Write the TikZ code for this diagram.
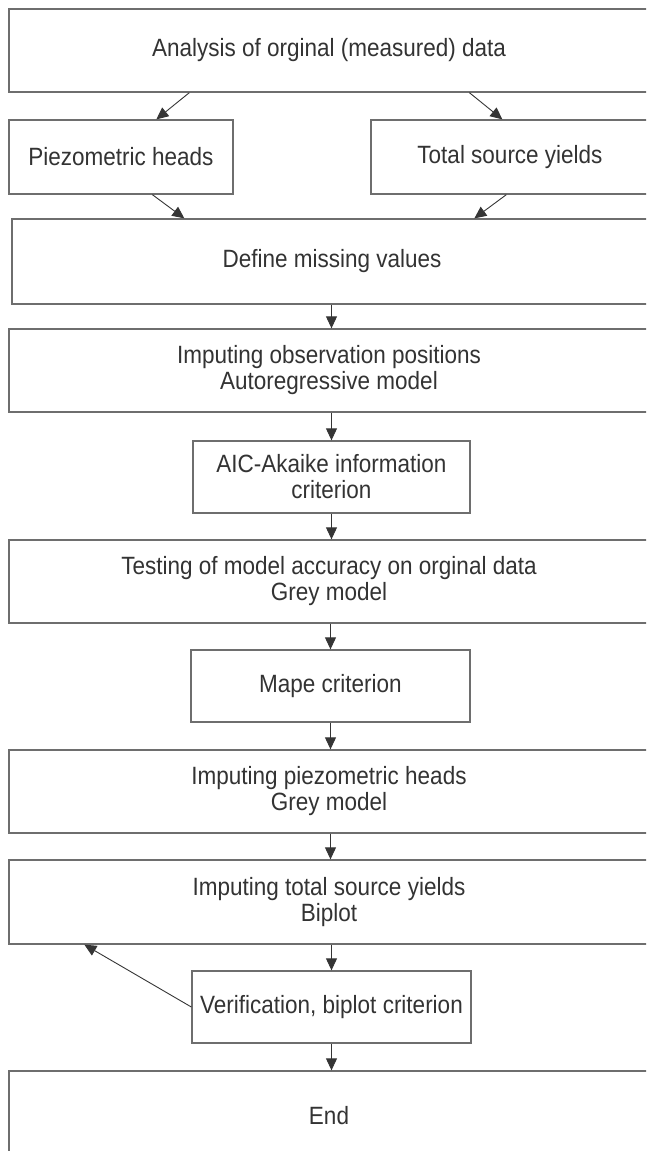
\documentclass[tikz,border=0pt]{standalone}
\usepackage{fontspec}
\setmainfont{Liberation Sans}[FakeStretch=0.9]
\usetikzlibrary{arrows.meta,positioning}
\definecolor{boxline}{HTML}{6E6E6E}
\definecolor{ink}{HTML}{333333}
\definecolor{arrowink}{HTML}{353535}
\tikzset{
  box/.style={draw=boxline, line width=1.3pt, fill=white, align=center,
    text=ink, font=\fontsize{25}{26}\selectfont, inner sep=0pt},
  widebox/.style={box, minimum width=640pt},
  narrowbox/.style={box, minimum width=278pt, minimum height=72pt},
  flow/.style={draw=arrowink, line width=0.9pt,
    -{Triangle[length=12pt,width=11pt]}},
}
\begin{document}
\begin{tikzpicture}[x=1pt,y=-1pt]
  \useasboundingbox (0,0) rectangle (646,1151);
  \clip (0,0) rectangle (646,1151);

  % stages of the procedure
  \node[widebox, minimum height=83pt] (top) at (329,50.5)
    {Analysis of orginal (measured) data};
  \node[box, minimum width=224pt, minimum height=74pt] (piezo) at (121,157)
    {Piezometric heads};
  \node[box, minimum width=278pt, minimum height=74pt] (total) at (510,157)
    {Total source yields};
  \node[widebox, minimum height=85pt] (define) at (332,261.5)
    {Define missing values};
  \node[widebox, minimum height=83pt] (impobs) at (329,370.5)
    {Imputing observation positions\\Autoregressive model};
  \node[narrowbox, minimum width=277pt] (aic) at (331.5,477)
    {AIC-Akaike information\\criterion};
  \node[widebox, minimum height=83pt] (testing) at (329,581.5)
    {Testing of model accuracy on orginal data\\Grey model};
  \node[narrowbox, minimum width=279pt] (mape) at (330.5,686)
    {Mape criterion};
  \node[widebox, minimum height=83pt] (imppiezo) at (329,791.5)
    {Imputing piezometric heads\\Grey model};
  \node[widebox, minimum height=84pt] (imptotal) at (329,902)
    {Imputing total source yields\\Biplot};
  \node[narrowbox, minimum width=279pt] (verify) at (331.5,1007)
    {Verification, biplot criterion};
  \node[widebox, minimum height=100pt] (finish) at (329,1121)
    {\raisebox{11pt}{End}};

  % connectors
  \draw[flow] ([xshift=181pt]top.south west) -- ([xshift=148pt]piezo.north west);
  \draw[flow] ([xshift=461pt]top.south west) -- ([xshift=132pt]total.north west);
  \draw[flow] ([xshift=144pt]piezo.south west) -- ([xshift=173pt]define.north west);
  \draw[flow] ([xshift=136pt]total.south west) -- ([xshift=463pt]define.north west);
  \draw[flow] (define.south -| aic) -- (impobs.north -| aic);
  \draw[flow] (impobs.south -| aic) -- (aic.north);
  \draw[flow] (aic.south) -- (testing.north -| aic);
  \draw[flow] (testing.south -| mape) -- (mape.north);
  \draw[flow] (mape.south) -- (imppiezo.north -| mape);
  \draw[flow] (imppiezo.south -| mape) -- (imptotal.north -| mape);
  \draw[flow] (imptotal.south -| verify) -- (verify.north);
  \draw[flow] (verify.south) -- (finish.north -| verify);
  \draw[flow] (verify.west) -- ([xshift=76pt]imptotal.south west);
\end{tikzpicture}
\end{document}
